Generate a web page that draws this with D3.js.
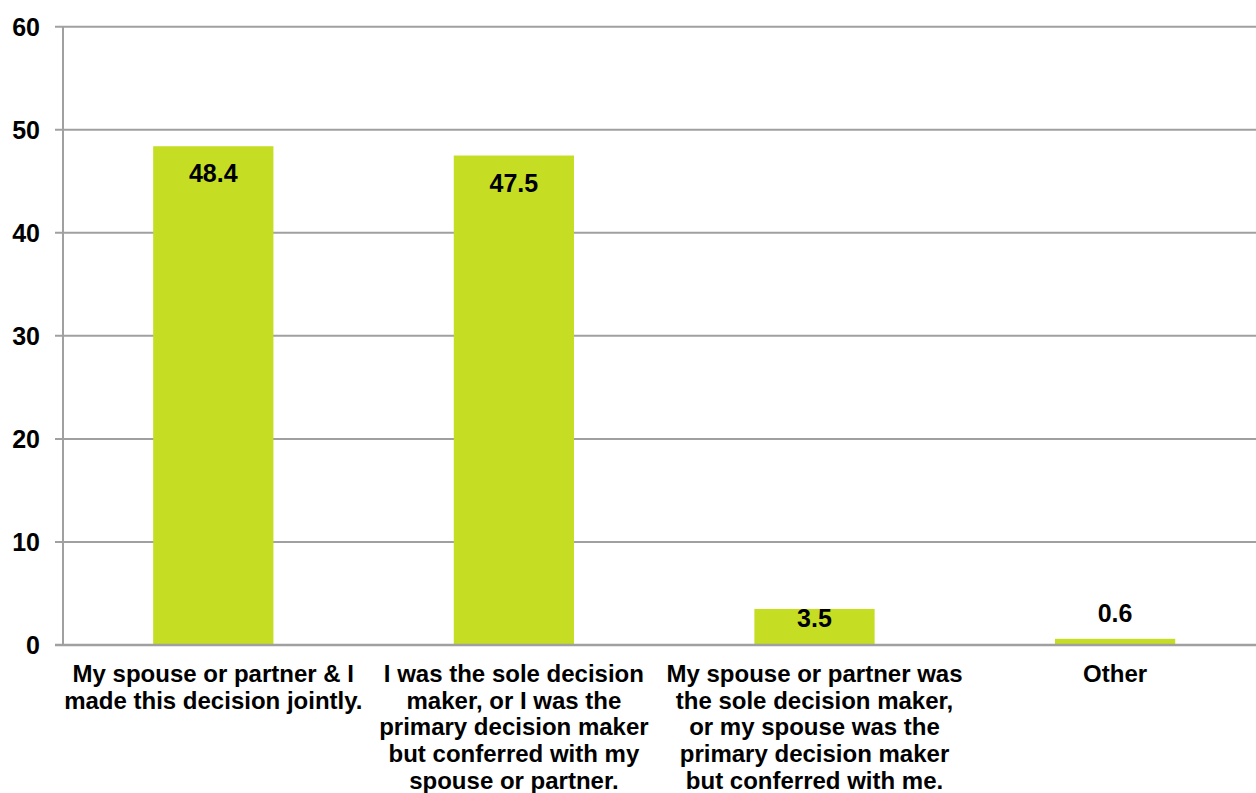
<!DOCTYPE html>
<html><head><meta charset="utf-8">
<script src="https://cdn.jsdelivr.net/npm/d3@7"></script>
<style>
html,body{margin:0;padding:0;background:#fff;}
svg{display:block;font-family:"Liberation Sans",Arial,sans-serif;font-weight:bold;}
</style></head>
<body>
<svg id="chart" width="1256" height="793"></svg>
<script>
const categories = [
  ["My spouse or partner & I", "made this decision jointly."],
  ["I was the sole decision", "maker, or I was the", "primary decision maker", "but conferred with my", "spouse or partner."],
  ["My spouse or partner was", "the sole decision maker,", "or my spouse was the", "primary decision maker", "but conferred with me."],
  ["Other"]
];
const values = [48.4, 47.5, 3.5, 0.6];
const valueLabels = ["48.4", "47.5", "3.5", "0.6"];
const yTicks = [0, 10, 20, 30, 40, 50, 60];

(function () {
const svg = d3.select("#chart");
const mLeft = 63, mRight = 1265.4, mTop = 26.7, mBottom = 645;
const fs = 25;
const catFs = 24;
const barColor = "#c5de23";
const gridColor = "#a0a0a0";

const x = d3.scaleBand().domain(d3.range(values.length)).range([mLeft, mRight]).padding(0);
const y = d3.scaleLinear().domain([0, 60]).range([mBottom, mTop]);

svg.append("g").selectAll("line").data(yTicks).join("line")
  .attr("x1", mLeft - 8).attr("x2", 1256)
  .attr("y1", d => y(d)).attr("y2", d => y(d))
  .attr("stroke", gridColor).attr("stroke-width", 2);

svg.append("line").attr("x1", mLeft).attr("x2", mLeft).attr("y1", y(60)).attr("y2", y(0))
  .attr("stroke", gridColor).attr("stroke-width", 2);

svg.append("g").selectAll("text").data(yTicks).join("text")
  .attr("x", 40).attr("y", d => y(d)).attr("dy", "0.36em")
  .attr("text-anchor", "end").attr("font-size", fs).attr("fill", "#000")
  .text(d => d);

const bw = x.bandwidth() * 0.4;
svg.append("g").selectAll("rect").data(values).join("rect")
  .attr("x", (d, i) => x(i) + x.bandwidth() / 2 - bw / 2)
  .attr("width", bw)
  .attr("y", d => y(d))
  .attr("height", d => y(0) - y(d))
  .attr("fill", barColor);

svg.append("line").attr("x1", mLeft - 8).attr("x2", 1256).attr("y1", y(0)).attr("y2", y(0))
  .attr("stroke", gridColor).attr("stroke-width", 2.5);

svg.append("g").selectAll("text").data(values).join("text")
  .attr("x", (d, i) => x(i) + x.bandwidth() / 2)
  .attr("y", d => {
    const h = y(0) - y(d);
    if (h < 20) return y(d) - 17;
    return Math.min(y(d) + 36, y(0) - 18);
  })
  .attr("text-anchor", "middle").attr("font-size", fs).attr("fill", "#000")
  .text((d, i) => valueLabels[i]);

const cat = svg.append("g").selectAll("text").data(categories).join("text")
  .attr("x", (d, i) => x(i) + x.bandwidth() / 2)
  .attr("y", 682)
  .attr("text-anchor", "middle").attr("font-size", catFs).attr("fill", "#000");
cat.selectAll("tspan").data(d => d).join("tspan")
  .attr("x", function () { return d3.select(this.parentNode).attr("x"); })
  .attr("y", (d, j) => 682 + j * 26.7)
  .text(d => d);
})();
</script>
</body></html>
